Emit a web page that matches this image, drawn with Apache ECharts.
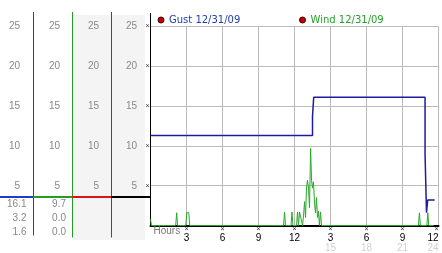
<!DOCTYPE html>
<html><head><meta charset="utf-8">
<script src="https://cdn.jsdelivr.net/npm/echarts@6/dist/echarts.min.js"></script>
<style>html,body{margin:0;padding:0;background:#fff}#c{width:442px;height:253px}</style>
</head><body><div id="c"></div>
<script>
// ---- data ----
const hourLabels   = ['Hours','3','6','9','12','3','6','9','12'];
const hourLabels24 = ['','','','','','15','18','21','24'];
const speedTickLabels = ['','5','10','15','20','25'];
const gustName = 'Gust 12/31/09';
const windName = 'Wind 12/31/09';
// [hour, mph]
const gustPoints = [[0,11.3],[13.5,11.3],[13.5,13.7],[13.6,13.7],[13.6,16.1],[22.88,16.1],[22.88,8.9],[23.0,1.6],[23.1,1.6],[23.1,3.2],[23.68,3.2]];
const windPoints = [
  [0,0.8],[0.08,0],
  [2.1,0],[2.18,1.6],[2.26,0],
  [2.94,0],[3.02,1.6],[3.19,1.6],[3.27,0],
  [11.09,0],[11.17,1.7],[11.25,0],
  [11.71,0],[11.79,1.7],[11.87,0],
  [12.17,0],[12.25,1.7],[12.33,0],[12.42,1.7],[12.5,1.7],[12.58,1.7],[12.67,0],
  [12.75,1.2],[12.84,3.0],[12.92,1.0],[13.0,4.7],[13.08,5.7],[13.17,4.7],[13.25,2.2],
  [13.34,9.7],[13.42,5.7],[13.5,4.7],[13.58,5.5],[13.67,2.8],[13.75,1.6],[13.83,3.5],
  [13.92,1.0],[14.0,1.8],[14.08,0],[14.17,1.7],[14.25,0],
  [22.33,0],[22.41,1.6],[22.49,0],
  [23.03,0],[23.11,1.6],[23.19,0],[23.6,0]
];
const gustStats = ['16.1','3.2','1.6'];
const windStats = ['9.7','0.0','0.0'];

// ---- chart ----
const FONT = '"Liberation Sans", Arial, sans-serif';
const LBL = '#888';
const chart = echarts.init(document.getElementById('c'), null, {renderer:'canvas'});

const labelCols = [22, 62, 101, 139];
const grids = [{left:150.5, right:3.5, top:26.5, bottom:26.5}];
const xAxes = [{
  type:'value', min:0, max:24, interval:3, gridIndex:0,
  axisLine:{show:true, lineStyle:{color:'#000', width:2}},
  axisTick:{show:false},
  splitLine:{show:true, lineStyle:{color:'#bbb', width:1}},
  axisLabel:{
    margin:0, alignMinLabel:'left', alignMaxLabel:'right',
    formatter:function(v){
      const i = Math.round(v/3);
      if (i === 0) return '{h|' + hourLabels[0] + '}';
      let s = '{m|×}\n{n|' + hourLabels[i] + '}';
      if (hourLabels24[i]) s += '\n{g|' + hourLabels24[i] + '}';
      return s;
    },
    rich:{
      h:{fontFamily:FONT, fontSize:10, color:'#777', lineHeight:11, padding:[0,0,0,3]},
      m:{fontFamily:FONT, fontSize:7, color:'#333', lineHeight:7},
      n:{fontFamily:FONT, fontSize:10, color:'#000', lineHeight:11},
      g:{fontFamily:FONT, fontSize:10, color:'#d0d0d0', lineHeight:9}
    }
  }
}];
const yAxes = [{
  type:'value', min:0, max:25, interval:5, gridIndex:0,
  axisLine:{show:true, lineStyle:{color:'#000', width:1}},
  axisTick:{show:false},
  splitLine:{show:true, lineStyle:{color:'#bbb', width:1}},
  axisLabel:{margin:1, fontSize:7, color:'#333', fontFamily:FONT,
    formatter:function(v){ return v === 0 ? '' : '×'; }}
}];
labelCols.forEach(function(l, k){
  grids.push({left:l, width:1, top:26.5, bottom:26.5});
  xAxes.push({type:'value', gridIndex:k+1, show:false, min:0, max:1});
  yAxes.push({
    type:'value', min:0, max:25, interval:5, gridIndex:k+1,
    axisLine:{show:false}, axisTick:{show:false}, splitLine:{show:false},
    axisLabel:{margin:2, fontSize:10, color:LBL, fontFamily:FONT,
      formatter:function(v){ return speedTickLabels[Math.round(v/5)]; }}
  });
});

const graphics = [
  {type:'rect', z:-1, shape:{x:73, y:15, width:38, height:225}, style:{fill:'#f4f4f4'}},
  {type:'rect', z:-1, shape:{x:112, y:15, width:33, height:225}, style:{fill:'#f4f4f4'}},
  {type:'line', z:5, shape:{x1:33.5, y1:12, x2:33.5, y2:235.5}, style:{stroke:'#1e3cc8', lineWidth:1}},
  {type:'line', z:5, shape:{x1:72.5, y1:12, x2:72.5, y2:237.5}, style:{stroke:'#22a022', lineWidth:1}},
  {type:'line', z:5, shape:{x1:111.5, y1:12, x2:111.5, y2:237.5}, style:{stroke:'#c81818', lineWidth:1}},
  {type:'line', z:5, shape:{x1:0, y1:197, x2:33, y2:197}, style:{stroke:'#1e3cc8', lineWidth:2}},
  {type:'line', z:5, shape:{x1:33, y1:197, x2:72, y2:197}, style:{stroke:'#22a022', lineWidth:2}},
  {type:'line', z:5, shape:{x1:72, y1:197, x2:111, y2:197}, style:{stroke:'#d81818', lineWidth:2}},
  {type:'line', z:5, shape:{x1:111, y1:197, x2:150, y2:197}, style:{stroke:'#000', lineWidth:2}},
  {type:'line', z:5, shape:{x1:150.5, y1:13, x2:150.5, y2:27}, style:{stroke:'#000', lineWidth:1}}
];
const statYs = [204, 218.5, 232.5];
gustStats.forEach(function(t,i){
  graphics.push({type:'text', z:5, x:26.5, y:statYs[i], style:{text:t, fill:LBL, font:'10px ' + FONT, textAlign:'right', textVerticalAlign:'middle'}});
});
windStats.forEach(function(t,i){
  graphics.push({type:'text', z:5, x:66, y:statYs[i], style:{text:t, fill:LBL, font:'10px ' + FONT, textAlign:'right', textVerticalAlign:'middle'}});
});

const legendBase = {
  orient:'horizontal', top:15, padding:0, itemWidth:6, itemHeight:6, icon:'circle',
  itemStyle:{color:'#c40000', borderColor:'#400000', borderWidth:1},
  textStyle:{fontFamily:'"DejaVu Sans", sans-serif', fontSize:10}
};

chart.setOption({
  animation:false,
  backgroundColor:'#fff',
  grid:grids, xAxis:xAxes, yAxis:yAxes,
  legend:[
    Object.assign({}, legendBase, {left:157.5, data:[gustName], textStyle:Object.assign({}, legendBase.textStyle, {color:'#2040b0'})}),
    Object.assign({}, legendBase, {left:299, data:[windName], textStyle:Object.assign({}, legendBase.textStyle, {color:'#28a028'})})
  ],
  graphic:graphics,
  series:[
    {name:windName, type:'line', xAxisIndex:0, yAxisIndex:0, data:windPoints, showSymbol:false, z:3,
     lineStyle:{color:'#2aa82a', width:1}, itemStyle:{color:'#2aa82a'}},
    {name:gustName, type:'line', xAxisIndex:0, yAxisIndex:0, data:gustPoints, showSymbol:false, z:4,
     lineStyle:{color:'#1c1ca0', width:1.5}, itemStyle:{color:'#1c1ca0'}}
  ]
});
</script></body></html>
